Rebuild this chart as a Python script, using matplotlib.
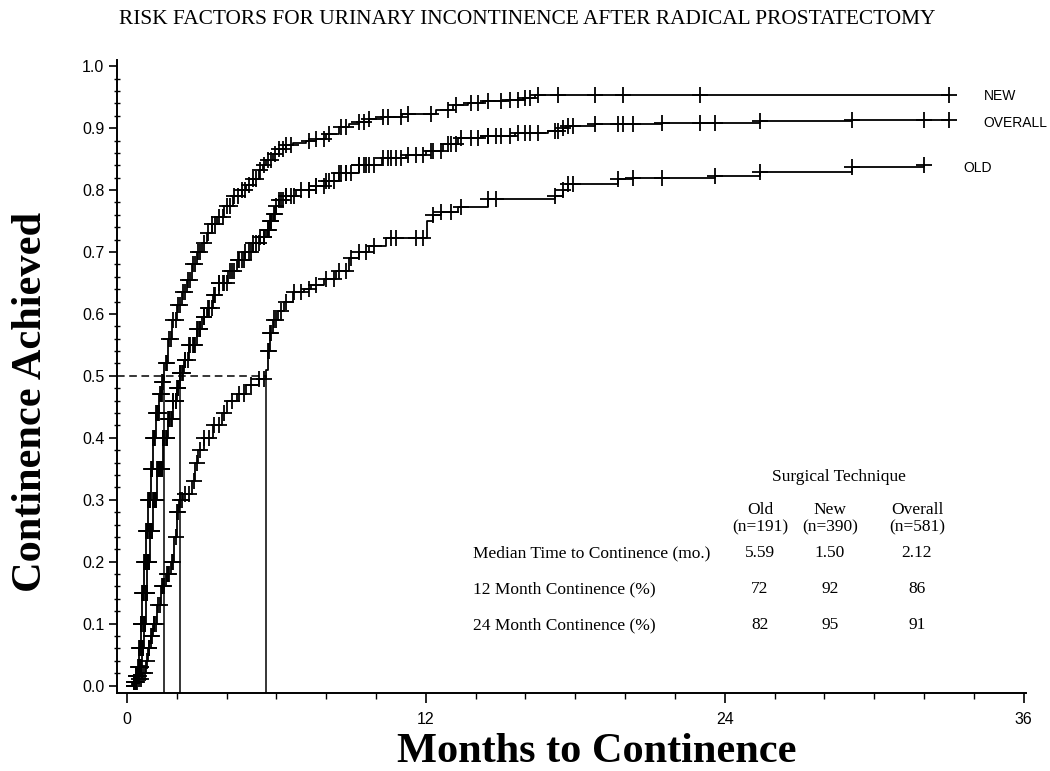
import numpy as np
import matplotlib.pyplot as plt
from matplotlib.ticker import MultipleLocator

# Kaplan-Meier steps: month of each event and cumulative continence after it
new_t = [0.0, 0.2, 0.35, 0.45, 0.5, 0.55, 0.62, 0.7, 0.78, 0.85, 0.95, 1.05, 1.15, 1.3, 1.42,
         1.5, 1.65, 1.8, 2.0, 2.2, 2.4, 2.6, 2.8, 3.0, 3.2, 3.4, 3.6, 3.9, 4.25, 4.6, 4.8, 5.05,
         5.3, 5.45, 5.6, 5.85, 6.1, 6.4, 6.65, 7.2, 7.6, 8.0, 8.5, 8.9, 9.3, 9.7, 10.3, 11.05,
         12.4, 13.1, 13.7, 14.3, 15.2, 15.9, 16.4, 33.0]
new_v = [0.0, 0.005, 0.015, 0.03, 0.06, 0.10, 0.15, 0.20, 0.25, 0.30, 0.35, 0.40, 0.44, 0.47, 0.49,
         0.52, 0.56, 0.59, 0.615, 0.635, 0.655, 0.68, 0.70, 0.715, 0.73, 0.745, 0.757, 0.775, 0.79,
         0.80, 0.808, 0.818, 0.832, 0.84, 0.848, 0.858, 0.866, 0.872, 0.876, 0.879, 0.883, 0.89,
         0.902, 0.906, 0.91, 0.915, 0.918, 0.923, 0.929, 0.937, 0.94, 0.943, 0.946, 0.949, 0.953, 0.953]
new_censor = [0.3, 0.35, 0.38, 0.42, 0.45, 0.48, 0.5, 0.52, 0.54, 0.56, 0.58, 0.6, 0.62, 0.64,
              0.66, 0.68, 0.7, 0.72, 0.74, 0.76, 0.78, 0.8, 0.82, 0.84, 0.86, 0.88, 0.9, 0.92,
              0.94, 0.97, 1.0, 1.02, 1.05, 1.08, 1.1, 1.13, 1.17, 1.2, 1.24, 1.27, 1.31, 1.35,
              1.39, 1.42, 1.46, 1.55, 1.62, 1.7, 1.78, 1.86, 1.95, 2.05, 2.15, 2.25, 2.35, 2.45,
              2.55, 2.65, 2.75, 2.85, 2.95, 3.1, 3.25, 3.4, 3.55, 3.7, 3.85, 4.0, 4.15, 4.3,
              4.45, 4.6, 4.75, 4.9, 5.05, 5.2, 5.35, 5.5, 5.65, 5.8, 5.95, 6.1, 6.25, 6.4, 6.6,
              7.3, 7.6, 7.9, 8.1, 8.6, 8.8, 9.3, 9.5, 9.7, 10.3, 10.5, 11.0, 11.3, 12.2, 12.9,
              13.2, 13.8, 14.1, 14.5, 15.0, 15.4, 15.7, 16.0, 16.2, 16.5, 17.3, 18.8, 19.9,
              23.0, 33.0]

old_t = [0.0, 0.3, 0.45, 0.6, 0.75, 0.85, 0.95, 1.05, 1.2, 1.35, 1.55, 1.75, 1.9, 2.0, 2.1, 2.25,
         2.6, 2.75, 2.85, 3.1, 3.45, 3.8, 4.0, 4.4, 4.8, 5.3, 5.59, 5.65, 5.75, 5.85, 6.05, 6.3,
         6.65, 7.1, 7.4, 7.9, 8.4, 8.9, 9.3, 9.7, 10.4, 12.05, 12.3, 12.6, 13.3, 14.5, 17.2, 17.5,
         17.7, 19.7, 20.3, 23.6, 25.4, 29.1, 32.0]
old_v = [0.0, 0.005, 0.01, 0.02, 0.04, 0.06, 0.08, 0.10, 0.13, 0.16, 0.18, 0.20, 0.24, 0.28, 0.30,
         0.31, 0.33, 0.36, 0.38, 0.40, 0.42, 0.44, 0.46, 0.47, 0.485, 0.495, 0.51, 0.54, 0.57, 0.59,
         0.605, 0.62, 0.635, 0.64, 0.647, 0.657, 0.67, 0.69, 0.70, 0.71, 0.722, 0.75, 0.76, 0.765,
         0.773, 0.785, 0.79, 0.80, 0.81, 0.818, 0.82, 0.823, 0.829, 0.837, 0.84]
old_censor = [0.4, 0.5, 0.58, 0.65, 0.72, 0.8, 0.88, 0.9, 0.97, 1.0, 1.07, 1.1, 1.18, 1.25,
              1.32, 1.4, 1.45, 1.5, 1.6, 1.65, 1.7, 1.8, 1.85, 1.95, 2.02, 2.05, 2.15, 2.2,
              2.35, 2.5, 2.7, 2.8, 2.95, 3.1, 3.3, 3.5, 3.7, 3.9, 4.2, 4.5, 4.7, 5.0, 5.3, 5.5,
              5.65, 5.7, 5.75, 5.8, 5.9, 6.0, 6.2, 6.4, 6.7, 7.0, 7.3, 7.6, 8.0, 8.3, 8.5, 8.8,
              9.0, 9.3, 9.6, 9.9, 10.6, 10.8, 11.6, 11.9, 12.3, 12.6, 13.0, 13.4, 14.5, 14.8,
              17.2, 17.5, 17.7, 17.9, 19.7, 20.3, 21.5, 23.6, 25.4, 29.1, 32.0]

overall_t = [0.0, 0.25, 0.4, 0.5, 0.6, 0.68, 0.75, 0.82, 0.92, 1.05, 1.2, 1.45, 1.65, 1.85, 2.0,
             2.12, 2.3, 2.5, 2.8, 3.0, 3.2, 3.45, 3.7, 4.05, 4.4, 4.75, 5.05, 5.35, 5.6, 5.75,
             5.85, 6.0, 6.1, 6.4, 6.8, 7.6, 8.0, 8.5, 9.3, 10.25, 11.2, 12.0, 12.7, 13.3, 14.3,
             15.6, 16.9, 17.5, 17.7, 18.8, 21.5, 25.4, 29.1, 33.0]
overall_v = [0.0, 0.005, 0.015, 0.03, 0.06, 0.10, 0.15, 0.20, 0.25, 0.30, 0.35, 0.40, 0.43, 0.46,
             0.48, 0.505, 0.525, 0.55, 0.575, 0.595, 0.61, 0.63, 0.65, 0.67, 0.687, 0.70, 0.714,
             0.725, 0.735, 0.75, 0.762, 0.775, 0.784, 0.79, 0.80, 0.806, 0.815, 0.827, 0.84,
             0.852, 0.857, 0.863, 0.875, 0.884, 0.887, 0.892, 0.895, 0.90, 0.903, 0.906, 0.908,
             0.911, 0.913, 0.913]
# the pooled group is censored wherever either technique is
overall_censor = sorted(new_censor + old_censor)

# summary table
groups = ['Old', 'New', 'Overall']
group_n = [191, 390, 581]
median_months = [5.59, 1.50, 2.12]
continence_12 = [72, 92, 86]
continence_24 = [82, 95, 91]


def step_value(t_steps, v_steps, times):
    """Value of a right-continuous step curve at the given times."""
    idx = np.searchsorted(t_steps, times, side='right') - 1
    return np.asarray(v_steps)[idx]


def draw_km(ax, t_steps, v_steps, censor):
    ax.step(t_steps, v_steps, where='post', color='black', lw=1.3, zorder=3)
    ax.plot(censor, step_value(t_steps, v_steps, censor), ls='none', marker='+',
            ms=11.5, mew=1.3, color='black', zorder=3)


def make_continence_plot():
    W, H = 1050, 771
    fig = plt.figure(figsize=(W / 100, H / 100), dpi=100)
    ax = fig.add_axes([0.1114, 0.1012, 0.8658, 0.8210])

    xmin, ymin = -0.4, -0.012
    ax.set_xlim(xmin, 36.1)
    ax.set_ylim(ymin, 1.01)

    for t_steps, v_steps, censor in [(new_t, new_v, new_censor),
                                     (overall_t, overall_v, overall_censor),
                                     (old_t, old_v, old_censor)]:
        draw_km(ax, t_steps, v_steps, censor)

    # median lines: dashed across at 0.5, solid drops to the axis
    ax.plot([xmin, max(median_months)], [0.5, 0.5], color='black', lw=1.1, ls=(0, (5, 3)))
    for m in median_months:
        ax.plot([m, m], [ymin, 0.5], color='black', lw=1.1)

    # curve names at the right end
    narrow = ['Liberation Sans Narrow', 'Liberation Sans']
    ax.text(34.4, 0.952, 'NEW', fontsize=10, family=narrow, va='center')
    ax.text(34.4, 0.909, 'OVERALL', fontsize=10, family=narrow, va='center')
    ax.text(33.6, 0.835, 'OLD', fontsize=10, family=narrow, va='center')

    # axes styling
    for side in ['top', 'right']:
        ax.spines[side].set_visible(False)
    for side in ['left', 'bottom']:
        ax.spines[side].set_linewidth(1.4)

    ax.set_xticks([0, 12, 24, 36])
    ax.xaxis.set_minor_locator(MultipleLocator(2))
    ax.set_yticks(np.arange(0, 1.01, 0.1))
    ax.set_yticklabels([f'{v:.1f}' for v in np.arange(0, 1.01, 0.1)])
    ax.yaxis.set_minor_locator(MultipleLocator(0.02))
    ax.tick_params(axis='x', which='major', direction='out', length=7, width=1.2, pad=7)
    ax.tick_params(axis='x', which='minor', direction='out', length=4, width=1.0)
    ax.tick_params(axis='y', which='major', direction='out', length=6, width=1.2, pad=3)
    ax.tick_params(axis='y', which='minor', direction='inout', length=5, width=1.0)
    for lab in ax.get_xticklabels():
        lab.set_family(narrow)
        lab.set_fontsize(11.5)
    for lab in ax.get_yticklabels():
        lab.set_family('Liberation Sans')
        lab.set_fontsize(11.5)

    serif = 'Liberation Serif'
    fig.text(597 / W, 1 - 752 / H, 'Months to Continence', family=serif, fontweight='bold',
             fontsize=30.5, ha='center', va='center')
    fig.text(31 / W, 1 - 402 / H, 'Continence Achieved', family=serif, fontweight='bold',
             fontsize=30.5, ha='center', va='center', rotation=90)
    fig.text(527 / W, 1 - 20 / H, 'RISK FACTORS FOR URINARY INCONTINENCE AFTER RADICAL PROSTATECTOMY',
             family=serif, fontsize=15.4, ha='center', va='center')

    # summary table in the lower right
    col_x = [760, 830, 917]
    fs = 12.5

    def put(x, y, s, ha='center'):
        fig.text(x / W, 1 - y / H, s, family=serif, fontsize=fs, ha=ha, va='center')

    put(839, 477, 'Surgical Technique')
    for x, g, n in zip(col_x, groups, group_n):
        put(x, 510, g)
        put(x, 527, f'(n={n})')
    rows = [('Median Time to Continence (mo.)', [f'{m:.2f}' for m in median_months], 553),
            ('12 Month Continence (%)', [str(v) for v in continence_12], 589),
            ('24 Month Continence (%)', [str(v) for v in continence_24], 625)]
    for label, vals, y in rows:
        put(473, y, label, ha='left')
        for x, s in zip(col_x, vals):
            put(x, y, s)

    fig.savefig('out.png', dpi=100)


if __name__ == '__main__':
    make_continence_plot()
